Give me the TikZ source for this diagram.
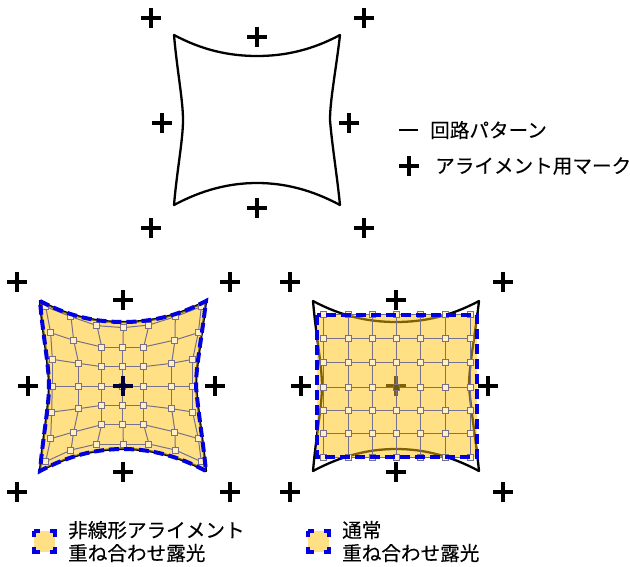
\documentclass[tikz,border=0pt]{standalone}
\usepackage{fontspec}
\setmainfont{Noto Sans CJK JP}[FakeBold=0.2]
\definecolor{patblue}{HTML}{0000E0}
\definecolor{expfill}{HTML}{FFC10B}
\definecolor{gridgray}{HTML}{77708A}
\tikzset{
  markplus/.style={line width=3.6pt, black},
  patline/.style={line width=2.3pt, black, line join=round},
  expdash/.style={line width=4pt, patblue, dash pattern=on 10pt off 5pt},
  legdash/.style={line width=3.8pt, patblue, dash pattern=on 11pt off 10pt, dash phase=5.5pt},
  expshade/.style={fill=expfill, fill opacity=0.5, draw=none},
  gridline/.style={line width=1pt, gridgray},
  gridpt/.style={draw=gridgray, fill=white!75!expfill, line width=1pt, minimum size=6pt, inner sep=0pt},
  legtext/.style={font=\fontsize{19.6}{23}\selectfont, anchor=west, align=left, inner sep=0pt},
}
% Distorted pattern outline, centred on the origin
\newcommand{\patpath}{(-83,-85) .. controls (-55,-70) and (-28,-64) .. (0,-64)
  .. controls (28,-64) and (55,-70) .. (83,-85)
  .. controls (79,-50) and (73,-20) .. (73,0)
  .. controls (75,25) and (80,55) .. (83,85)
  .. controls (55,70) and (28,63) .. (0,63)
  .. controls (-28,63) and (-55,70) .. (-83,85)
  .. controls (-80,50) and (-74,20) .. (-74,0)
  .. controls (-74,-20) and (-80,-50) .. (-83,-85) -- cycle}
% Outline with its eight alignment marks
\newcommand{\patmarks}{
  \draw[patline] \patpath;
  \foreach \mx/\my in {-106/-104, 107/-104, 0/-86, -95/0, 92/0, 0/86, -106/106, 107/106} {
    \draw[markplus] (\mx-10,\my) -- (\mx+10,\my) (\mx,\my-10) -- (\mx,\my+10);
  }
}
\begin{document}
\begin{tikzpicture}[x=1pt, y=-1pt]
  \useasboundingbox (0,0) rectangle (630,566);

  % Top pattern
  \begin{scope}[shift={(257,120)}]
    \draw[patline] \patpath;
    \foreach \mx/\my in {-106/-102, 107/-102, 0/-83, -95/3, 92/3, 0/88, -106/108, 107/108} {
      \draw[markplus] (\mx-10,\my) -- (\mx+10,\my) (\mx,\my-10) -- (\mx,\my+10);
    }
  \end{scope}

  % Legend of the top pattern
  \coordinate (patL) at (399,130);
  \coordinate (patR) at (418,130);
  \draw[line width=1.6pt] (patL) -- (patR);
  \node[legtext] (patlabel) at (430,130) {回路パターン};
  \draw[markplus] (399,166) -- (419,166) (409,156) -- (409,176);
  \node[legtext] (marklabel) at (435,166) {アライメント用マーク};

  % Nonlinear exposure
  \begin{scope}[shift={(123,386)}]
    \patmarks
    \fill[expshade] \patpath;
  \end{scope}
  \begin{scope}[shift={(0,260)}, scale=1/3]
    \foreach \gx/\gy [count=\gi from 0, evaluate=\gi as \gr using {int(\gi/7)}, evaluate=\gi as \gc using {int(mod(\gi,7))}] in {
      137/140,213/170,291/197,370/203,447/195,526/170,604/140,
      152/218,221/241,305/261,369/261,431/261,525/240,595/218,
      157/298,236/310,305/320,369/320,431/320,515/310,578/298,
      157/378,236/378,305/378,369/378,431/378,515/378,578/378,
      155/456,236/446,305/436,369/436,431/436,515/446,578/456,
      152/536,221/516,305/494,369/494,431/494,525/516,595/536,
      137/605,213/570,291/552,370/552,447/552,526/570,604/605} {
      \coordinate (a\gr-\gc) at (\gx,\gy);
    }
  \end{scope}
  \foreach \r in {0,...,6} {
    \foreach \c [remember=\c as \p (initially 0)] in {1,...,6} {
      \draw[gridline] (a\r-\p) -- (a\r-\c);
      \draw[gridline] (a\p-\r) -- (a\c-\r);
    }
  }
  \foreach \r in {0,...,6} {
    \foreach \c in {0,...,6} {
      \node[gridpt] (na\r-\c) at (a\r-\c) {};
    }
  }
  \begin{scope}[shift={(123,386)}]
    \draw[markplus, black!75!patblue] (-10,0) -- (10,0) (0,-10) -- (0,10);
    \draw[expdash] \patpath;
  \end{scope}

  % Normal exposure
  \begin{scope}[shift={(396,386)}]
    \patmarks
    \draw[markplus] (-10,0) -- (10,0) (0,-10) -- (0,10);
    \fill[expshade] (-79,-71) rectangle (81,71);
  \end{scope}
  \foreach \gx [count=\c from 0] in {323,348,372,396,420,445,470} {
    \foreach \gy [count=\r from 0] in {314,338,362,387,410,433,457} {
      \coordinate (b\r-\c) at (\gx,\gy);
    }
  }
  \foreach \r in {0,...,6} {
    \foreach \c [remember=\c as \p (initially 0)] in {1,...,6} {
      \draw[gridline] (b\r-\p) -- (b\r-\c);
      \draw[gridline] (b\p-\r) -- (b\c-\r);
    }
  }
  \foreach \r in {0,...,6} {
    \foreach \c in {0,...,6} {
      \node[gridpt] (nb\r-\c) at (b\r-\c) {};
    }
  }
  \node[gridpt, fill=expfill!45!black] (nbmid) at (b3-3) {};
  \draw[expdash] (317,315) rectangle (477,457);

  % Legend of the exposures
  \fill[expshade] (34,531) rectangle (55,552);
  \draw[legdash] (34,531) rectangle (55,552);
  \node[legtext] (nonlab) at (68,541.5) {非線形アライメント\\重ね合わせ露光};
  \fill[expshade] (308,531) rectangle (329,552);
  \draw[legdash] (308,531) rectangle (329,552);
  \node[legtext] (normlab) at (342,541.5) {通常\\重ね合わせ露光};
\end{tikzpicture}
\end{document}
